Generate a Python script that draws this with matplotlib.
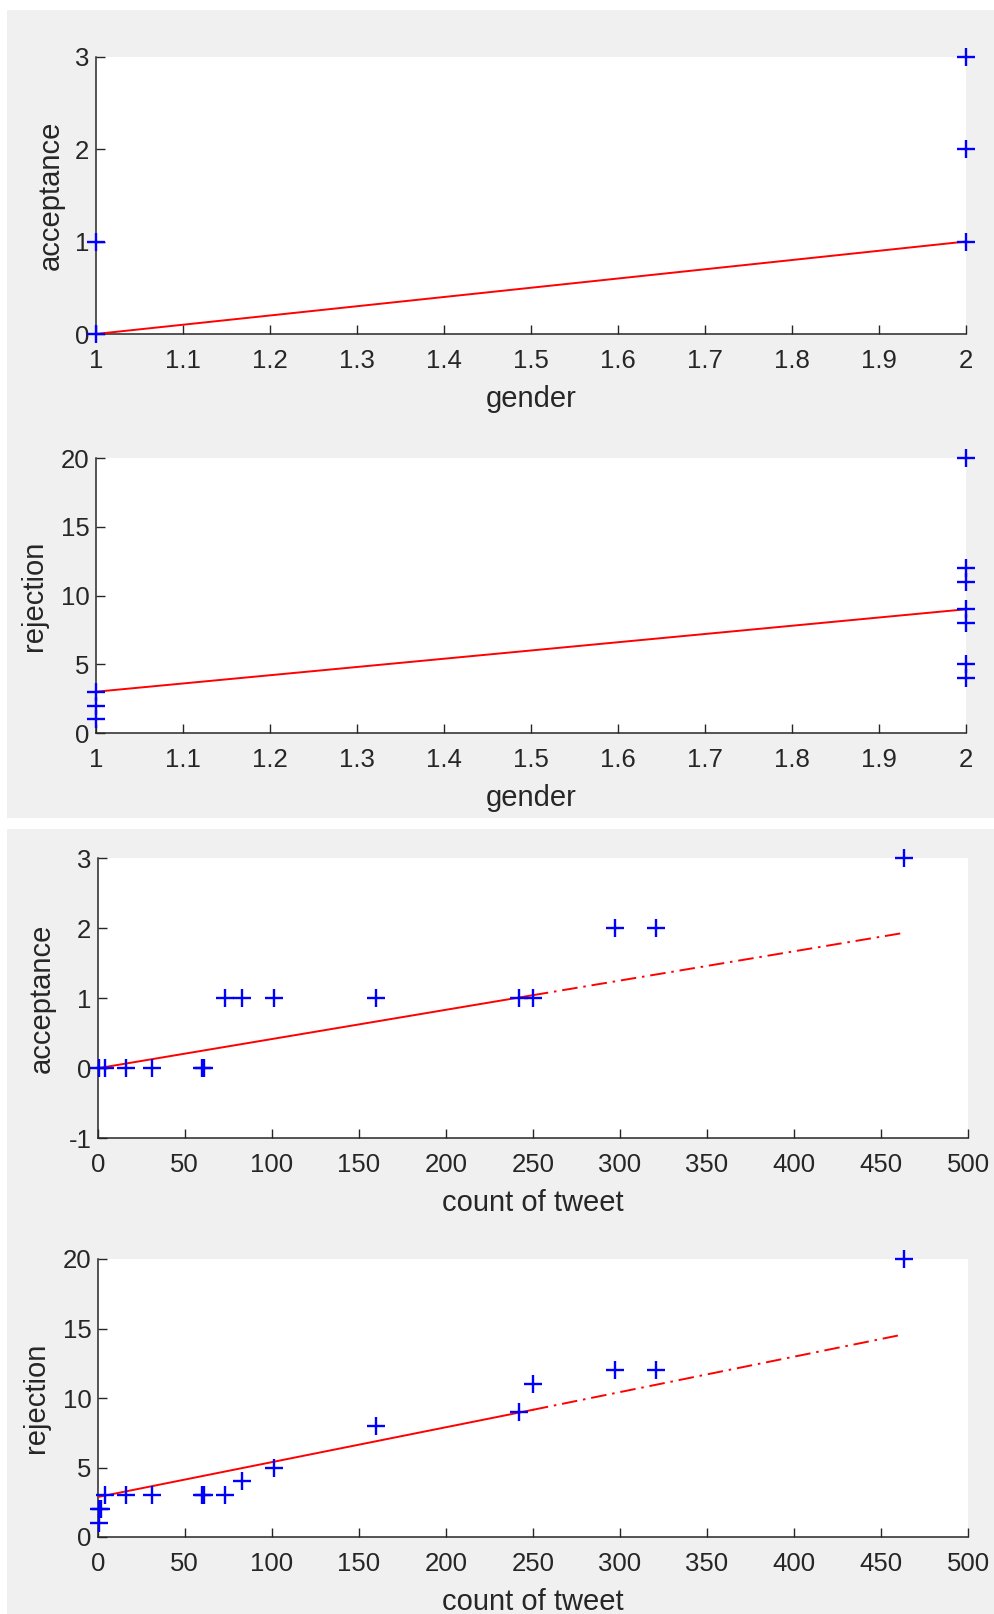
import matplotlib
matplotlib.use("Agg")
import matplotlib.pyplot as plt
from matplotlib.patches import Rectangle
from matplotlib.ticker import FuncFormatter, MultipleLocator

# ---------------- data ----------------
gender_acc_x = [1, 1, 2, 2, 2]
gender_acc_y = [1, 0, 3, 2, 1]
gender_acc_fit_x = [1, 2]
gender_acc_fit_y = [0, 1]

gender_rej_x = [1, 1, 1, 2, 2, 2, 2, 2, 2, 2]
gender_rej_y = [3, 2, 1, 20, 12, 11, 9, 8, 5, 4]
gender_rej_fit_x = [1, 2]
gender_rej_fit_y = [3, 9]

tweet_acc_x = [1, 4, 16, 31, 60, 61, 73, 83, 101, 160, 242, 250, 297, 321, 463]
tweet_acc_y = [0, 0, 0, 0, 0, 0, 1, 1, 1, 1, 1, 1, 2, 2, 3]
tweet_acc_fit_solid_x = [1, 250]
tweet_acc_fit_solid_y = [0.0, 1.04]
tweet_acc_fit_dash_x = [250, 463]
tweet_acc_fit_dash_y = [1.04, 1.93]

tweet_rej_x = [1, 1, 2, 4, 16, 31, 60, 61, 73, 83, 101, 160, 242, 250, 297, 321, 463]
tweet_rej_y = [1, 2, 2, 3, 3, 3, 3, 3, 3, 4, 5, 8, 9, 11, 12, 12, 20]
tweet_rej_fit_solid_x = [1, 250]
tweet_rej_fit_solid_y = [2.9, 9.15]
tweet_rej_fit_dash_x = [250, 460]
tweet_rej_fit_dash_y = [9.15, 14.5]

gender_ticks = [1, 1.1, 1.2, 1.3, 1.4, 1.5, 1.6, 1.7, 1.8, 1.9, 2]
tweet_ticks = [0, 50, 100, 150, 200, 250, 300, 350, 400, 450, 500]

# ---------------- style ----------------
W, H = 995, 1614
DPI = 100
plt.rcParams['font.family'] = ['Liberation Sans', 'DejaVu Sans']
TXT = '#262626'
GRAY = '#f0f0f0'
TICK_FS = 18.5
LABEL_FS = 21

fig = plt.figure(figsize=(W / DPI, H / DPI), dpi=DPI, facecolor='white')

def frac_rect(l, t, r, b):
    return [l / W, 1 - b / H, (r - l) / W, (b - t) / H]

# gray panels of the two stacked figures
for (l, t, r, b) in [(7, 10, 995, 818), (7, 829, 995, 1614)]:
    fig.patches.append(Rectangle((l / W, 1 - b / H), (r - l) / W, (b - t) / H,
                                 transform=fig.transFigure, facecolor=GRAY,
                                 edgecolor='none', zorder=-10))

fmt = FuncFormatter(lambda v, p: ('%g' % round(v, 6)))

def style(ax, xlim, ylim, xticks, ystep, xlabel, ylabel, ylabelpad):
    ax.set_facecolor('white')
    ax.set_xlim(*xlim)
    ax.set_ylim(*ylim)
    ax.set_xticks(xticks)
    ax.yaxis.set_major_locator(MultipleLocator(ystep))
    ax.xaxis.set_major_formatter(fmt)
    ax.yaxis.set_major_formatter(fmt)
    for s in ['top', 'right']:
        ax.spines[s].set_visible(False)
    for s in ['left', 'bottom']:
        ax.spines[s].set_color(TXT)
        ax.spines[s].set_linewidth(1.1)
    ax.tick_params(direction='in', length=6.5, width=1.0, colors=TXT,
                   labelsize=TICK_FS, labelcolor=TXT)
    ax.tick_params(axis='x', pad=10.5)
    ax.tick_params(axis='y', pad=4.5)
    ax.set_xlabel(xlabel, fontsize=LABEL_FS, color=TXT, labelpad=9)
    ax.set_ylabel(ylabel, fontsize=LABEL_FS, color=TXT, labelpad=ylabelpad)

def scatter(ax, x, y):
    ax.plot(x, y, linestyle='none', marker='+', markersize=13, mew=1.7,
            color='#0000ff', clip_on=False, zorder=5)

RED = '#ff0000'
LW = 1.4
DASHDOT = (0, (8, 3, 1.3, 3))

# ---- panel 1 ----
ax1 = fig.add_axes(frac_rect(95.7, 56.6, 966, 334))
style(ax1, (1, 2), (0, 3), gender_ticks, 1, 'gender', 'acceptance', 7.5)
ax1.plot(gender_acc_fit_x, gender_acc_fit_y, color=RED, lw=LW, zorder=4)
scatter(ax1, gender_acc_x, gender_acc_y)

# ---- panel 2 ----
ax2 = fig.add_axes(frac_rect(95.7, 458, 966, 733))
style(ax2, (1, 2), (0, 20), gender_ticks, 5, 'gender', 'rejection', 9)
ax2.plot(gender_rej_fit_x, gender_rej_fit_y, color=RED, lw=LW, zorder=4)
scatter(ax2, gender_rej_x, gender_rej_y)

# ---- panel 3 ----
ax3 = fig.add_axes(frac_rect(97.7, 858, 968, 1138))
style(ax3, (0, 500), (-1, 3), tweet_ticks, 1, 'count of tweet', 'acceptance', 9.5)
ax3.plot(tweet_acc_fit_solid_x, tweet_acc_fit_solid_y, color=RED, lw=LW, zorder=4)
ax3.plot(tweet_acc_fit_dash_x, tweet_acc_fit_dash_y, color=RED, lw=LW,
         linestyle=DASHDOT, zorder=4)
scatter(ax3, tweet_acc_x, tweet_acc_y)

# ---- panel 4 ----
ax4 = fig.add_axes(frac_rect(97.7, 1259, 968, 1537))
style(ax4, (0, 500), (0, 20), tweet_ticks, 5, 'count of tweet', 'rejection', 9)
ax4.plot(tweet_rej_fit_solid_x, tweet_rej_fit_solid_y, color=RED, lw=LW, zorder=4)
ax4.plot(tweet_rej_fit_dash_x, tweet_rej_fit_dash_y, color=RED, lw=LW,
         linestyle=DASHDOT, zorder=4)
scatter(ax4, tweet_rej_x, tweet_rej_y)

fig.savefig('out.png', dpi=DPI, facecolor='white')
